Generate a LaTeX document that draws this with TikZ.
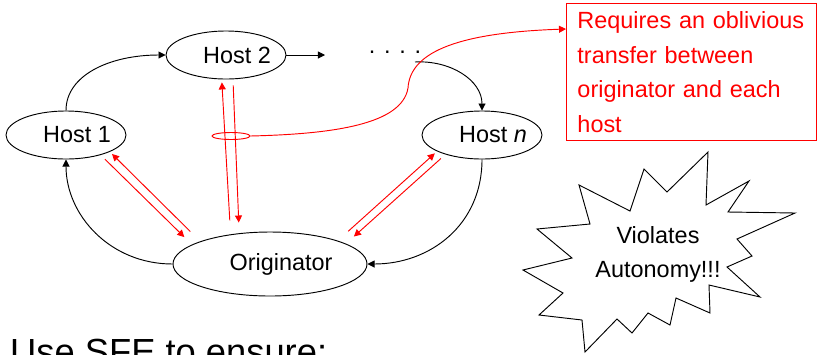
\documentclass[tikz,border=0pt]{standalone}
\usepackage{fontspec}
\setmainfont{Liberation Sans}
\usetikzlibrary{arrows.meta,shapes.geometric}

\newcommand{\offtext}[1]{\makebox[0pt]{\hspace{0.66cm}#1}}

\tikzset{
  hostnode/.style={draw, ellipse, line width=0.8pt, inner sep=0pt, minimum width=3.6cm, minimum height=1.44cm},
  blk/.style={line width=0.8pt, -{Triangle[length=6pt,width=6pt]}},
  toh/.style={red, line width=0.8pt, -{Triangle[length=6pt,width=6pt]}, shorten <=0.42cm, shorten >=0.09cm},
  too/.style={red, line width=0.8pt, -{Triangle[length=6pt,width=6pt]}, shorten <=0.18cm, shorten >=0.32cm},
}

\begin{document}
\begin{tikzpicture}[x=0.03cm, y=-0.03cm, font=\fontsize{20}{24}\selectfont]
  \useasboundingbox (0,0) rectangle (817,354);
  \clip (0,0) rectangle (817,354);

  % hosts and originator
  \node[hostnode] (h1) at (66,135) {\offtext{Host 1}};
  \node[hostnode] (h2) at (226,55) {\offtext{Host 2}};
  \node[hostnode] (hn) at (482,135) {\offtext{Host \textit{n}}};
  \node[hostnode, minimum width=5.82cm, minimum height=1.92cm] (o) at (270,264) {\offtext{Originator}};

  \coordinate (h2out) at (325,55);
  \node (dots) at (395,52) {. . . .};
  \coordinate (dotsrc) at (415,62);

  % the ring
  \draw[blk] (h1.north) .. controls (66,75) and (110,55) .. (h2.west);
  \draw[blk] (h2.east) -- (h2out);
  \draw[blk] (dotsrc) .. controls (450,60) and (482,80) .. (hn.north);
  \draw[blk] (hn.south) .. controls (482,225) and (430,264) .. (o.east);
  \draw[blk] (o.west) .. controls (110,264) and (66,215) .. (h1.south);

  % oblivious transfers
  \draw[toh] (o.162) -- (h1.-21);
  \draw[too] (h1.-30) -- (o.166);
  \draw[toh] (o.143) -- (h2.-100);
  \draw[too] (h2.-74) -- (o.135);
  \draw[toh] (o.19) -- (hn.-160);
  \draw[too] (hn.-152) -- (o.15);

  % note
  \node[hostnode, draw=red, minimum width=1.14cm, minimum height=0.21cm] (oval) at (231,136) {};
  \node[draw=red, line width=0.8pt, text=red, anchor=north west, inner xsep=0.33cm, inner ysep=0.1cm,
        text width=6.84cm, minimum height=4.11cm, align=left, font=\fontsize{20}{29.4}\selectfont]
        (note) at (566,3) {Requires an oblivious\\transfer between\\originator and each\\host};
  \coordinate (notein) at ([yshift=-0.78cm]note.north west);
  \draw[red, line width=0.8pt, -{Triangle[length=6pt,width=6pt]}]
    (oval.east) .. controls (335,134) and (402,124) .. (408,88)
    .. controls (410,55) and (450,33) .. (notein);

  % burst
  \draw[line width=0.8pt] (708,152) -- (706,205) -- (749,181) -- (728,212) -- (795,213) -- (737,239)
    -- (752,256) -- (727,267) -- (760,297) -- (709,285) -- (710,313) -- (676,298) -- (670,325)
    -- (648,313) -- (632,333) -- (617,319) -- (585,352) -- (582,320) -- (539,315) -- (563,293)
    -- (523,270) -- (572,258) -- (537,229) -- (590,224) -- (579,185) -- (630,211) -- (644,169)
    -- (667,192) -- cycle;
  \node[align=center, font=\fontsize{20}{29}\selectfont] (viol) at (658,254) {Violates\\Autonomy!!!};

  \node[anchor=base west, inner sep=0pt, font=\fontsize{31}{36}\selectfont] (sfe) at (10,364) {Use SFE to ensure:};
\end{tikzpicture}
\end{document}
